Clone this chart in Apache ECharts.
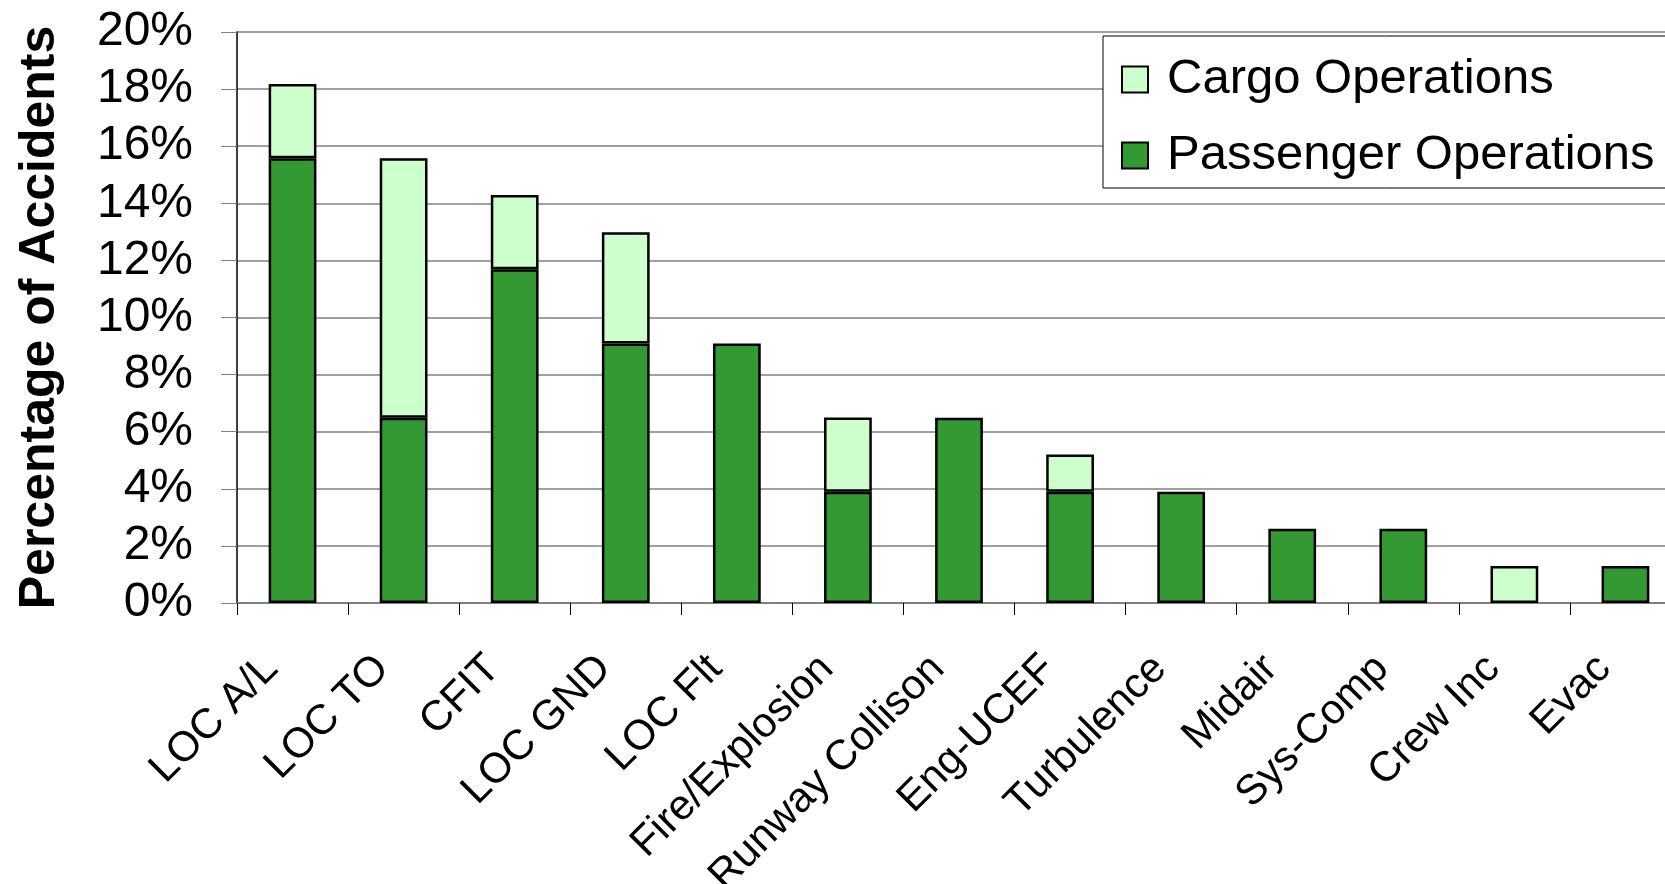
<!DOCTYPE html>
<html>
<head>
<meta charset="utf-8">
<script src="https://cdn.jsdelivr.net/npm/echarts@6/dist/echarts.min.js"></script>
<style>
  html, body { margin: 0; padding: 0; background: #fff; }
  #chart { width: 1665px; height: 884px; }
</style>
</head>
<body>
<div id="chart"></div>
<script>
const categories = ['LOC A/L', 'LOC TO', 'CFIT', 'LOC GND', 'LOC Flt', 'Fire/Explosion',
  'Runway Collison', 'Eng-UCEF', 'Turbulence', 'Midair', 'Sys-Comp', 'Crew Inc', 'Evac'];
// percent of accidents
const passenger = [15.58, 6.49, 11.69, 9.09, 9.09, 3.90, 6.49, 3.90, 3.90, 2.60, 2.60, 0, 1.30];
const cargo = [2.60, 9.09, 2.60, 3.90, 0, 2.60, 0, 1.30, 0, 0, 0, 1.30, 0];

const font = "'Liberation Sans', Arial, sans-serif";
// empty segments should not draw a border line
const noZero = v => (v === 0 ? '-' : v);

const chart = echarts.init(document.getElementById('chart'));

chart.setOption({
  animation: false,
  grid: { left: 237, top: 32, right: -16, bottom: 281, containLabel: false, outerBoundsMode: 'none' },
  legend: {
    orient: 'vertical',
    left: 1103,
    top: 36,
    data: ['Cargo Operations', 'Passenger Operations'],
    icon: 'rect',
    itemWidth: 26,
    itemHeight: 26,
    itemGap: 27,
    padding: [19, 40, 8, 18],
    borderColor: '#000',
    borderWidth: 1,
    borderRadius: 0,
    backgroundColor: '#fff',
    textStyle: { fontFamily: font, fontSize: 49, color: '#000', padding: [0, 0, 0, 14] }
  },
  xAxis: {
    type: 'category',
    data: categories,
    axisLine: { lineStyle: { color: '#808080', width: 2 } },
    axisTick: { show: true, length: 12, lineStyle: { color: '#000', width: 1 } },
    axisLabel: {
      rotate: 45, margin: 38, interval: 0,
      padding: [0, 30, 0, 0],
      fontFamily: font, fontSize: 42, color: '#000'
    }
  },
  yAxis: {
    type: 'value',
    min: 0, max: 20, interval: 2,
    name: 'Percentage of Accidents',
    nameLocation: 'middle',
    nameGap: 172,
    nameTextStyle: { fontFamily: font, fontSize: 50, fontWeight: 'bold', color: '#000' },
    axisLine: { show: true, lineStyle: { color: '#000', width: 1.5 } },
    axisTick: { show: true, length: 16, lineStyle: { color: '#808080', width: 1 } },
    splitLine: { show: true, lineStyle: { color: '#808080', width: 1.5 } },
    axisLabel: {
      formatter: '{value}%', margin: 44,
      fontFamily: font, fontSize: 48, color: '#000'
    }
  },
  series: [
    {
      name: 'Passenger Operations',
      type: 'bar',
      stack: 'ops',
      data: passenger.map(noZero),
      barWidth: '43%',
      itemStyle: { color: '#339933', borderColor: '#000', borderWidth: 2.5 }
    },
    {
      name: 'Cargo Operations',
      type: 'bar',
      stack: 'ops',
      data: cargo.map(noZero),
      barWidth: '43%',
      itemStyle: { color: '#CCFFCC', borderColor: '#000', borderWidth: 2.5 }
    }
  ]
});

window.addEventListener('resize', function () { chart.resize(); });
</script>
</body>
</html>
